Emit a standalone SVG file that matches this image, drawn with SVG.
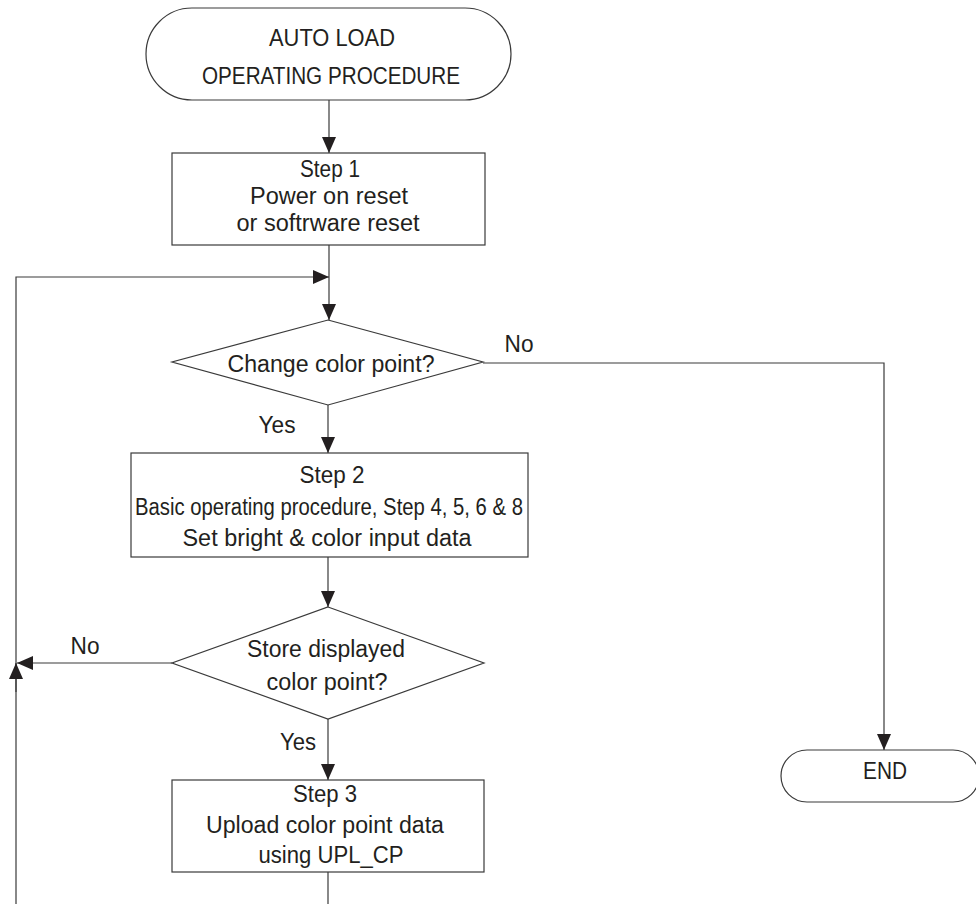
<svg xmlns="http://www.w3.org/2000/svg" width="976" height="904" viewBox="0 0 976 904">
  <style>
    .shape { fill: #ffffff; stroke: #3a3a3a; stroke-width: 1.2; }
    .wire { fill: none; stroke: #3a3a3a; stroke-width: 1.2; }
    text { font-family: "Liberation Sans Narrow", "Liberation Sans", Arial, sans-serif; font-size: 23.5px; fill: #231f20; text-anchor: middle; }
  </style>
  <defs>
    <marker id="arrow" viewBox="0 0 16 14" refX="16" refY="7" markerWidth="16" markerHeight="14" orient="auto" markerUnits="userSpaceOnUse">
      <path d="M0,0 L16,7 L0,14 z" fill="#231f20"/>
    </marker>
  </defs>
  <rect width="976" height="904" fill="#ffffff"/>

  <g id="connectors">
    <path class="wire" d="M329,100 V153" marker-end="url(#arrow)"/>
    <path class="wire" d="M329,245 V320" marker-end="url(#arrow)"/>
    <path class="wire" d="M16,904 V277 H329" marker-end="url(#arrow)"/>
    <path class="wire" d="M16,692 V663" marker-end="url(#arrow)"/>
    <path class="wire" d="M328,405 V453" marker-end="url(#arrow)"/>
    <path class="wire" d="M483,363 H884 V750" marker-end="url(#arrow)"/>
    <path class="wire" d="M328,557 V607" marker-end="url(#arrow)"/>
    <path class="wire" d="M172,663 H17" marker-end="url(#arrow)"/>
    <path class="wire" d="M328,719 V780" marker-end="url(#arrow)"/>
    <path class="wire" d="M328,872 V904"/>
    <text x="277" y="433" textLength="37" lengthAdjust="spacingAndGlyphs">Yes</text>
    <text x="519" y="352" textLength="29" lengthAdjust="spacingAndGlyphs">No</text>
    <text x="85" y="654" textLength="29" lengthAdjust="spacingAndGlyphs">No</text>
    <text x="298" y="750" textLength="36" lengthAdjust="spacingAndGlyphs">Yes</text>
  </g>

  <g id="start">
    <rect class="shape" x="146" y="8" width="365" height="92" rx="46" ry="46"/>
    <text x="332" y="46" textLength="126" lengthAdjust="spacingAndGlyphs">AUTO LOAD</text>
    <text x="331" y="84" textLength="258" lengthAdjust="spacingAndGlyphs">OPERATING PROCEDURE</text>
  </g>

  <g id="step1">
    <rect class="shape" x="172" y="153" width="313" height="92"/>
    <text x="330" y="177" textLength="60" lengthAdjust="spacingAndGlyphs">Step 1</text>
    <text x="329" y="204" textLength="158" lengthAdjust="spacingAndGlyphs">Power on reset</text>
    <text x="328" y="231" textLength="183" lengthAdjust="spacingAndGlyphs">or softrware reset</text>
  </g>

  <g id="decision-change">
    <polygon class="shape" points="328,320 483,362 328,405 172,362"/>
    <text x="331" y="372" textLength="207" lengthAdjust="spacingAndGlyphs">Change color point?</text>
  </g>

  <g id="step2">
    <rect class="shape" x="131" y="453" width="397" height="104"/>
    <text x="332" y="483" textLength="65" lengthAdjust="spacingAndGlyphs">Step 2</text>
    <text x="329" y="515" textLength="388" lengthAdjust="spacingAndGlyphs">Basic operating procedure, Step 4, 5, 6 &amp; 8</text>
    <text x="327" y="546" textLength="289" lengthAdjust="spacingAndGlyphs">Set bright &amp; color input data</text>
  </g>

  <g id="decision-store">
    <polygon class="shape" points="328,607 484,663 328,719 172,663"/>
    <text x="326" y="657" textLength="158" lengthAdjust="spacingAndGlyphs">Store displayed</text>
    <text x="327" y="690" textLength="121" lengthAdjust="spacingAndGlyphs">color point?</text>
  </g>

  <g id="step3">
    <rect class="shape" x="172" y="780" width="312" height="92"/>
    <text x="325" y="802" textLength="64" lengthAdjust="spacingAndGlyphs">Step 3</text>
    <text x="325" y="833" textLength="238" lengthAdjust="spacingAndGlyphs">Upload color point data</text>
    <text x="331" y="863" textLength="145" lengthAdjust="spacingAndGlyphs">using UPL_CP</text>
  </g>

  <g id="end">
    <rect class="shape" x="781" y="750" width="198" height="52" rx="26" ry="26"/>
    <text x="885" y="779" textLength="44" lengthAdjust="spacingAndGlyphs">END</text>
  </g>
</svg>
